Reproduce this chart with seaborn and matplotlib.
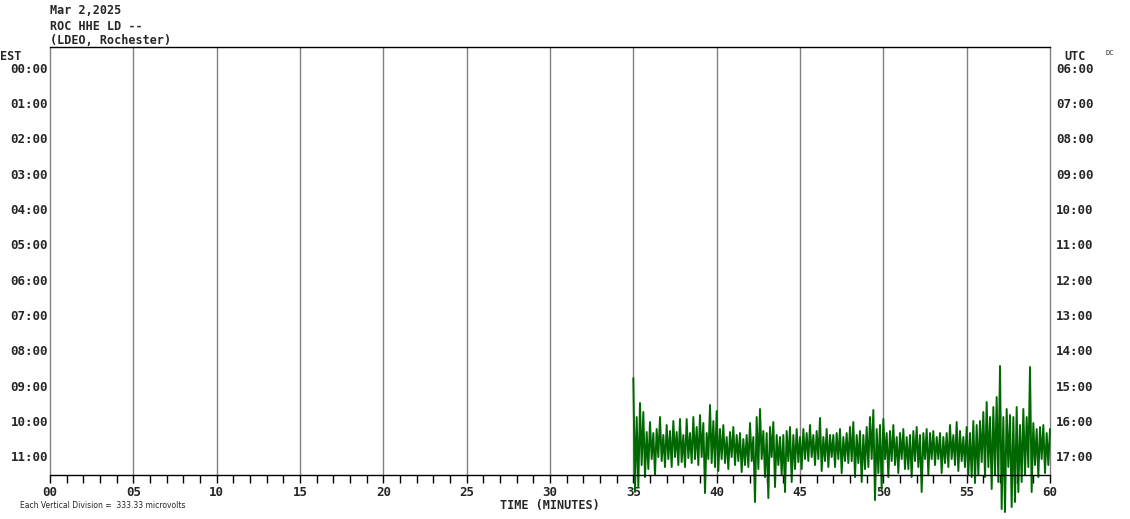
import numpy as np
import pandas as pd
import matplotlib
matplotlib.use("Agg")
from matplotlib import pyplot as plt
import seaborn as sns

# header text
date_label = "Mar 2,2025"
station_label = "ROC HHE LD --"
site_label = "(LDEO, Rochester)"

# row labels (one row per hour)
est_labels = ["00:00", "01:00", "02:00", "03:00", "04:00", "05:00",
              "06:00", "07:00", "08:00", "09:00", "10:00", "11:00"]
utc_labels = ["06:00", "07:00", "08:00", "09:00", "10:00", "11:00",
              "12:00", "13:00", "14:00", "15:00", "16:00", "17:00"]
minute_labels = ["00", "05", "10", "15", "20", "25", "30",
                 "35", "40", "45", "50", "55", "60"]

# trace of the last hour row
# (px above the trace baseline, ten samples per minute from 35 to 60)
trace_row = 11
trace_start, trace_end = 35, 60
trace_counts = [
    69, -45, 30, -40, 44, -18, 35, -30, 15, -22,   # 35
    25, -12, 14, -28, 18, -10, 30, -14, 12, -20,   # 36
    22, -12, 16, -20, 26, -10, 15, -18, 28, -15,   # 37
    12, -20, 28, -11, 14, -16, 30, -12, 20, -18,   # 38
    32, -10, 24, -46, 14, -12, 42, -16, 26, -20,   # 39
    36, -24, 18, -12, 22, -16, 10, -22, 15, -10,   # 40
    20, -18, 12, -14, 14, -25, 8, -18, 12, -20,    # 41
    24, -14, 10, -55, 30, -22, 38, -12, 16, -30,   # 42
    14, -51, 20, -10, 25, -40, 12, -18, 10, -28,   # 43
    12, -45, 16, -14, 20, -35, 12, -22, 18, -15,   # 44
    10, -22, 18, -12, 14, -14, 22, -10, 12, -18,   # 45
    16, -12, 29, -24, 10, -14, 18, -20, 12, -10,   # 46
    12, -20, 14, -12, 18, -26, 10, -14, 14, -16,   # 47
    20, -14, 25, -30, 12, -16, 16, -35, 12, -22,   # 48
    20, -20, 30, -12, 37, -53, 18, -26, 22, -42,   # 49
    28, -12, 14, -30, 16, -14, 22, -18, 10, -26,   # 50
    14, -12, 18, -22, 10, -22, 12, -30, 16, -14,   # 51
    20, -20, 12, -45, 14, -12, 18, -28, 14, -12,   # 52
    16, -18, 10, -12, 14, -26, 10, -16, 14, -20,   # 53
    22, -12, 12, -18, 25, -24, 16, -14, 10, -20,   # 54
    20, -28, 14, -30, 26, -36, 22, -28, 26, -15,   # 55
    35, -30, 45, -20, 30, -42, 40, -28, 50, -35,   # 56
    81, -62, 30, -65, 38, -20, 32, -60, 30, -55,   # 57
    40, -45, 22, -35, 38, -28, 30, -20, 80, -45,   # 58
    24, -18, 18, -30, 20, -12, 22, -26, 14, -18,   # 59
    18,
]
trace_offset = -0.31   # DC shift of the trace inside its row
row_px = 35.36         # pixels per hour row

sns.set_style("white")
plt.rcParams["font.family"] = ["DejaVu Sans Mono", "DejaVu Sans"]

W, H = 1130, 519
fig = plt.figure(figsize=(W / 100, H / 100), dpi=100)
ax = fig.add_axes([50 / W, (H - 475) / H, 1000 / W, 428 / H])

n = len(trace_counts)
df = pd.DataFrame({
    "minute": np.linspace(trace_start, trace_end, n),
    "row": trace_row + trace_offset - np.array(trace_counts) / row_px,
})
sns.lineplot(data=df, x="minute", y="row", ax=ax, color="#006800",
             linewidth=1.4, estimator=None, sort=False, zorder=3)
for line in ax.get_lines():
    line.set_clip_on(False)

ax.set_xlim(0, 60)
ax.set_ylim(11 + 17 / row_px, -22 / row_px)

# vertical division lines every 5 minutes
for m in range(0, 61, 5):
    ax.axvline(m, color="#808080", linewidth=1, zorder=1, clip_on=False)

for side in ["left", "right"]:
    ax.spines[side].set_visible(False)
ax.spines["top"].set_color("black")
ax.spines["bottom"].set_color("black")
ax.spines["top"].set_linewidth(1)
ax.spines["bottom"].set_linewidth(1)
ax.spines["bottom"].set_zorder(4)

ax.set_xticks(range(0, 61, 5))
ax.set_xticklabels(minute_labels, fontweight="bold", fontsize=9)
ax.set_xticks(range(0, 61), minor=True)
ax.tick_params(axis="x", which="both", direction="out", length=6,
               width=1, color="black", pad=2, bottom=True)
ax.set_yticks([])
ax.set_xlabel("TIME (MINUTES)", fontweight="bold", fontsize=8.5, labelpad=0)
ax.set_ylabel("")

for i, (est, utc) in enumerate(zip(est_labels, utc_labels)):
    ax.text(-0.002, i, est, transform=ax.get_yaxis_transform(),
            ha="right", va="center", fontsize=9, fontweight="bold")
    ax.text(1.006, i, utc, transform=ax.get_yaxis_transform(),
            ha="left", va="center", fontsize=9, fontweight="bold")

bold = dict(fontsize=8.5, fontweight="bold", va="center")
fig.text(50 / W, 1 - 11 / H, date_label, ha="left", **bold)
fig.text(50 / W, 1 - 26 / H, station_label, ha="left", **bold)
fig.text(50 / W, 1 - 40.5 / H, site_label, ha="left", **bold)
fig.text(0 / W, 1 - 56 / H, "EST", ha="left", **bold)
fig.text(1064 / W, 1 - 56 / H, "UTC", ha="left", **bold)
fig.text(1105 / W, 1 - 53 / H, "DC", ha="left", va="center", fontsize=5)
fig.text(20 / W, 1 - 505 / H, "Each Vertical Division =  333.33 microvolts",
         ha="left", va="center", fontsize=5.5, family="DejaVu Sans")

fig.savefig("out.png", dpi=100)
